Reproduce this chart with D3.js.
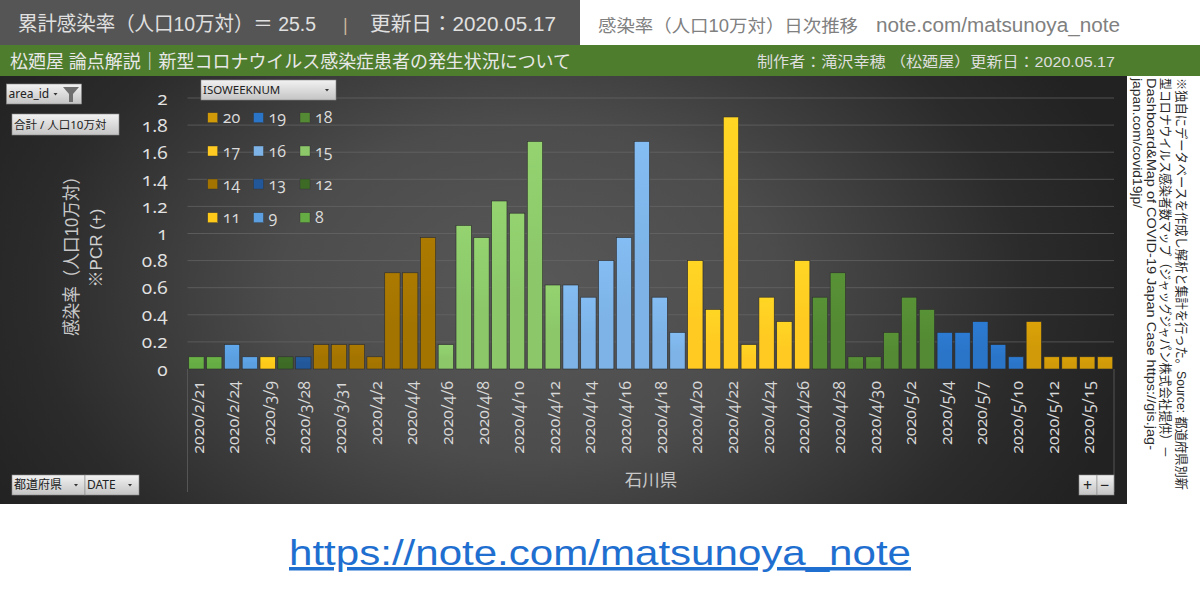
<!DOCTYPE html>
<html><head><meta charset="utf-8">
<script src="https://cdn.jsdelivr.net/npm/d3@7"></script>
<style>
html,body{margin:0;padding:0;background:#fff;overflow:hidden}
svg{display:block}
text{font-family:"Liberation Sans","Noto Sans CJK JP",sans-serif}
.num text,text.num{font-family:"Open Sans","Lato",sans-serif;font-variant-numeric:oldstyle-nums;font-feature-settings:"onum" 1}
text.ui{font-family:"Noto Sans","Noto Sans CJK JP",sans-serif;font-stretch:condensed}
</style></head><body><svg id="c" width="1200" height="595"></svg>
<script>
const dates=["2020/2/21","2020/2/22","2020/2/24","2020/2/25","2020/3/9","2020/3/18","2020/3/28","2020/3/30","2020/3/31","2020/4/1","2020/4/2","2020/4/3","2020/4/4","2020/4/5","2020/4/6","2020/4/7","2020/4/8","2020/4/9","2020/4/10","2020/4/11","2020/4/12","2020/4/13","2020/4/14","2020/4/15","2020/4/16","2020/4/17","2020/4/18","2020/4/19","2020/4/20","2020/4/21","2020/4/22","2020/4/23","2020/4/24","2020/4/25","2020/4/26","2020/4/27","2020/4/28","2020/4/29","2020/4/30","2020/5/1","2020/5/2","2020/5/3","2020/5/4","2020/5/5","2020/5/7","2020/5/8","2020/5/10","2020/5/11","2020/5/12","2020/5/13","2020/5/15","2020/5/16"];
const values=[.09,.09,.18,.09,.09,.09,.09,.18,.18,.18,.09,.71,.71,.97,.18,1.06,.97,1.24,1.15,1.68,.62,.62,.53,.8,.97,1.68,.53,.27,.8,.44,1.86,.18,.53,.35,.8,.53,.71,.09,.09,.27,.53,.44,.27,.27,.35,.18,.09,.35,.09,.09,.09,.09];
const weeks=[8,8,9,9,11,12,13,14,14,14,14,14,14,14,15,15,15,15,15,15,15,16,16,16,16,16,16,16,17,17,17,17,17,17,17,18,18,18,18,18,18,18,19,19,19,19,19,20,20,20,20,20];
const legendWeeks=[20,19,18,17,16,15,14,13,12,11,9,8];
const weekColors=["#d09a08","#2a75c8","#538a33","#ffcb22","#7db3e6","#8cc86a","#a37400","#22589a","#3d6b26","#ffc91a","#5b9fe0","#66ac44"];
const yTicks=[0,.2,.4,.6,.8,1,1.2,1.4,1.6,1.8,2];

const svg=d3.select("#c"),defs=svg.append("defs");
const color=d3.scaleOrdinal(legendWeeks,weekColors);
const bg=defs.append("radialGradient").attr("id","bg").attr("gradientUnits","userSpaceOnUse").attr("cx",0).attr("cy",0).attr("r",1)
 .attr("gradientTransform","translate(530,290) scale(620,420)");
bg.append("stop").attr("offset",0).attr("stop-color","#585858");
bg.append("stop").attr("offset",.4).attr("stop-color","#4c4c4c");
bg.append("stop").attr("offset",.8).attr("stop-color","#2b2b2b");
bg.append("stop").attr("offset",1).attr("stop-color","#222");
legendWeeks.forEach(w=>{
 const g=defs.append("linearGradient").attr("id","w"+w).attr("x1",0).attr("x2",0).attr("y1",0).attr("y2",1);
 const c=d3.color(color(w));
 g.append("stop").attr("offset",0).attr("stop-color",c.brighter(.15));
 g.append("stop").attr("offset",.55).attr("stop-color",c);
 g.append("stop").attr("offset",1).attr("stop-color",c);
});
const bt=defs.append("linearGradient").attr("id","btn").attr("x1",0).attr("x2",0).attr("y1",0).attr("y2",1);
bt.append("stop").attr("offset",0).attr("stop-color","#f2f2f2");
bt.append("stop").attr("offset",1).attr("stop-color","#c4c4c4");

// panels
svg.append("rect").attr("x",0).attr("y",76).attr("width",1127).attr("height",428).attr("fill","url(#bg)");
svg.append("rect").attr("x",0).attr("y",0).attr("width",580).attr("height",45).attr("fill","#555");
svg.append("rect").attr("x",0).attr("y",45).attr("width",1200).attr("height",31).attr("fill","#4f7d2e");

function label(x,y,t,size,fill,anchor,len){
 const e=svg.append("text").attr("x",x).attr("y",y).attr("font-size",size).attr("fill",fill).attr("text-anchor",anchor||"start").text(t);
 if(len)e.attr("textLength",len).attr("lengthAdjust","spacingAndGlyphs");
 return e;
}
label(18,31,"累計感染率（人口10万対）＝ 25.5",20,"#e0e0e0","start",298);
label(343,31,"|",18,"#c9b49a");
label(370,31,"更新日：2020.05.17",20,"#e0e0e0","start",186);
label(598,32,"感染率（人口10万対）日次推移",17.5,"#808080","start",260);
label(876,32,"note.com/matsunoya_note",19.5,"#808080","start",244);
label(10,68,"松廼屋 論点解説｜新型コロナウイルス感染症患者の発生状況について",18,"#e8e8e8","start",561);
label(757,67,"制作者：滝沢幸穂 （松廼屋）更新日：2020.05.17",14.5,"#dedede","start",358);

// scales
const x=d3.scaleBand().domain(dates).range([187.5,1114]).paddingInner(.14).paddingOuter(.07);
const y=d3.scaleLinear().domain([0,2]).range([369,98]);

// grid
svg.append("g").selectAll("line").data(yTicks.filter(d=>d>0)).join("line")
 .attr("x1",187.5).attr("x2",1114).attr("y1",d=>y(d)).attr("y2",d=>y(d)).attr("stroke","#6a6a6a").attr("stroke-width",1).attr("opacity",.65);
svg.append("g").selectAll("line").data([187.5,1114]).join("line")
 .attr("x1",d=>d).attr("x2",d=>d).attr("y1",369).attr("y2",492).attr("stroke","#555");

// bars
svg.append("g").selectAll("rect").data(dates).join("rect")
 .attr("x",d=>x(d)).attr("width",x.bandwidth())
 .attr("y",(d,i)=>y(values[i])).attr("height",(d,i)=>y(0)-y(values[i]))
 .attr("fill",(d,i)=>`url(#w${weeks[i]})`).attr("stroke","#2c2c2c").attr("stroke-width",.6);

// axes
const yAxis=d3.axisLeft(y).tickValues(yTicks).tickSize(0).tickPadding(0).tickFormat(d3.format("~g"));
const yg=svg.append("g").attr("class","num").attr("transform","translate(167.5,0)").call(yAxis);
yg.select(".domain").remove();
yg.selectAll("text").attr("font-size",19).attr("fill","#e2e2e2");
const xAxis=d3.axisBottom(x).tickValues(dates.filter((d,i)=>i%2===0)).tickSize(0).tickPadding(0);
const xg=svg.append("g").attr("class","num").attr("transform","translate(1.5,369)").call(xAxis);
xg.select(".domain").remove();
xg.selectAll("text").attr("font-size",16).attr("fill","#d8d8d8")
 .attr("transform","translate(0,12) rotate(-90)").attr("text-anchor","end").attr("dy","0.35em").attr("y",0).attr("x",0);

// axis titles
svg.append("text").attr("transform","translate(72,252) rotate(-90)").attr("text-anchor","middle").attr("dy","0.35em").attr("font-size",18).attr("fill","#c8c8c8").attr("textLength",168).attr("lengthAdjust","spacingAndGlyphs").text("感染率（人口10万対）");
svg.append("text").attr("transform","translate(96,248) rotate(-90)").attr("text-anchor","middle").attr("dy","0.35em").attr("font-size",17).attr("fill","#d0d0d0").text("※PCR (+)");
label(651,486,"石川県",17.5,"#c8c8c8","middle");

// legend
const cols=[207.7,253.5,300],rows=[117.7,151,184,217.7];
const lg=svg.append("g").selectAll("g").data(legendWeeks).join("g")
 .attr("transform",(d,i)=>`translate(${cols[i%3]},${rows[Math.floor(i/3)]})`);
lg.append("rect").attr("x",0).attr("y",-5).attr("width",10).attr("height",10).attr("fill",d=>color(d)).attr("stroke","#333").attr("stroke-width",.4);
lg.append("text").attr("class","num").attr("x",15).attr("dy","0.35em").attr("font-size",16).attr("fill","#dcdcdc").text(d=>d);

// buttons
function button(bx,by,w,h,t,arrow,size,tx){
 svg.append("rect").attr("x",bx).attr("y",by).attr("width",w).attr("height",h).attr("fill","url(#btn)").attr("stroke","#8a8a8a").attr("stroke-width",.6);
 svg.append("text").attr("class","ui").attr("x",tx===undefined?bx+2:tx).attr("y",by+h/2).attr("dy","0.35em").attr("font-size",size||12).attr("fill","#222").text(t);
 if(arrow)svg.append("path").attr("d",d3.line()([[bx+w-arrow-2,by+h/2-1],[bx+w-arrow+2,by+h/2-1],[bx+w-arrow,by+h/2+1.5]])).attr("fill","#333");
}
button(6.5,84,75,20,"area_id",26,12);
svg.append("path").attr("d",d3.line()([[63,87],[79,87],[73,94],[73,102],[69,102],[69,94]])+"Z").attr("fill","#6f6f6f");
button(12,114,107,21,"合計 / 人口10万対",0,11.5);
button(201,80,135,20,"ISOWEEKNUM",9,11.5);
button(12,475,73,20,"都道府県",9,12);
button(85,475,54,20,"DATE",9,12);
button(1079,475,18,20,"+",0,16,1083);
button(1097,475,17,20,"−",0,16,1100);

// side note
const notes=[["※独自にデータベースを作成し解析と集計を行った。Source: 都道府県別新",1177,412],["型コロナウイルス感染者数マップ（ジャッグジャパン株式会社提供）－",1161,380],["Dashboard&Map of COVID-19 Japan Case   https://gis.jag-",1147,372],["japan.com/covid19jp/",1133,130]];
svg.append("g").selectAll("text").data(notes).join("text")
 .attr("transform",d=>`translate(${d[1]},78) rotate(90)`).attr("font-size",13).attr("fill","#2a2a2a")
 .attr("textLength",d=>d[2]).attr("lengthAdjust","spacingAndGlyphs").text(d=>d[0]);

// link
svg.append("text").attr("x",289).attr("y",565).attr("font-size",35).attr("fill","#1f6fd0").attr("textLength",622).attr("lengthAdjust","spacingAndGlyphs").attr("text-decoration","underline").text("https://note.com/matsunoya_note");
</script></body></html>
